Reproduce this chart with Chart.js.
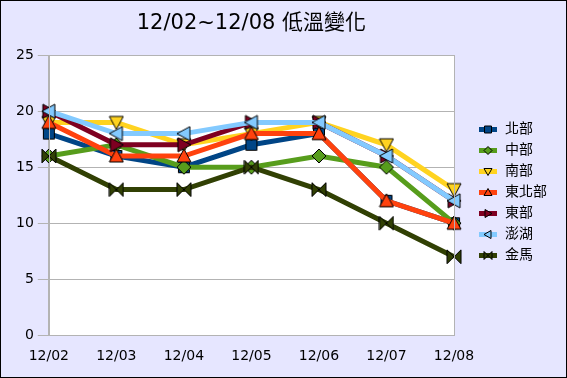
<!DOCTYPE html>
<html lang="zh-Hant">
<head>
    <meta charset="UTF-8">
    <title>12/02~12/08 低溫變化</title>
    <style>
        html, body { margin: 0; padding: 0; background: #e6e6ff; }
        #wrap { width: 567px; height: 378px; }
    </style>
</head>
<body>
    <div id="wrap"><canvas id="temp-chart" width="567" height="378"></canvas></div>

    <script src="https://cdn.jsdelivr.net/npm/chart.js"></script>
    <script>
        const days = ['12/02', '12/03', '12/04', '12/05', '12/06', '12/07', '12/08'];
        const regions = ['北部', '中部', '南部', '東北部', '東部', '澎湖', '金馬'];
        const north     = [18, 16, 15, 17, 18, 12, 10];
        const central   = [16, 17, 15, 15, 16, 15, 10];
        const south     = [19, 19, 17, 18, 19, 17, 13];
        const northeast = [19, 16, 16, 18, 18, 12, 10];
        const east      = [20, 17, 17, 19, 19, 16, 12];
        const penghu    = [20, 18, 18, 19, 19, 16, 12];
        const kinmen    = [16, 13, 13, 15, 13, 10, 7];
        const yTicks = [0, 5, 10, 15, 20, 25];

        const seriesValues = [north, central, south, northeast, east, penghu, kinmen];
        const colors = ['#004586', '#579d1c', '#ffd320', '#ff420e', '#7e0021', '#83caff', '#314004'];
        const shapes = ['square', 'diamond', 'down', 'up', 'right', 'left', 'bowtie'];

        function shapePath(ctx, shape, cx, cy, s) {
            const h = s / 2;
            ctx.beginPath();
            if (shape === 'square') {
                ctx.rect(cx - h + 0.5, cy - h + 0.5, s - 1, s - 1);
            } else if (shape === 'diamond') {
                ctx.moveTo(cx, cy - h); ctx.lineTo(cx + h, cy); ctx.lineTo(cx, cy + h); ctx.lineTo(cx - h, cy);
            } else if (shape === 'down') {
                ctx.moveTo(cx - h, cy - h + 1); ctx.lineTo(cx + h, cy - h + 1); ctx.lineTo(cx, cy + h);
            } else if (shape === 'up') {
                ctx.moveTo(cx - h, cy + h - 1); ctx.lineTo(cx + h, cy + h - 1); ctx.lineTo(cx, cy - h);
            } else if (shape === 'right') {
                ctx.moveTo(cx - h + 1, cy - h); ctx.lineTo(cx - h + 1, cy + h); ctx.lineTo(cx + h, cy);
            } else if (shape === 'left') {
                ctx.moveTo(cx + h - 1, cy - h); ctx.lineTo(cx + h - 1, cy + h); ctx.lineTo(cx - h, cy);
            } else if (shape === 'bowtie') {
                ctx.moveTo(cx - h, cy - h); ctx.lineTo(cx + h, cy + h); ctx.lineTo(cx + h, cy - h); ctx.lineTo(cx - h, cy + h);
            }
            ctx.closePath();
        }

        function makeMarker(shape, color, size) {
            const c = document.createElement('canvas');
            c.width = size + 2; c.height = size + 2;
            const ctx = c.getContext('2d');
            shapePath(ctx, shape, c.width / 2, c.height / 2, size);
            ctx.fillStyle = color;
            ctx.fill();
            ctx.strokeStyle = '#000';
            ctx.lineWidth = 1;
            ctx.stroke();
            return c;
        }

        function makeLegendMark(shape, color) {
            const c = document.createElement('canvas');
            c.width = 20; c.height = 12;
            const ctx = c.getContext('2d');
            ctx.fillStyle = color;
            ctx.fillRect(1, 4, 18, 5);
            shapePath(ctx, shape, 10, 6.5, 8);
            ctx.fill();
            ctx.strokeStyle = '#000';
            ctx.lineWidth = 1;
            ctx.stroke();
            return c;
        }

        const legendMarks = shapes.map((s, i) => makeLegendMark(s, colors[i]));

        const plotBackground = {
            id: 'plotBackground',
            beforeDraw(chart) {
                const { ctx, chartArea: a, width, height } = chart;
                ctx.save();
                ctx.fillStyle = '#e6e6ff';
                ctx.fillRect(0, 0, width, height);
                ctx.fillStyle = '#ffffff';
                ctx.fillRect(a.left, a.top, a.right - a.left, a.bottom - a.top);
                ctx.restore();
            },
            afterDraw(chart) {
                const { ctx, chartArea: a, width, height } = chart;
                ctx.save();
                ctx.strokeStyle = '#b3b3b3';
                ctx.lineWidth = 1;
                ctx.strokeRect(Math.round(a.left) + 0.5, Math.round(a.top) + 0.5, Math.round(a.right - a.left), Math.round(a.bottom - a.top));
                ctx.strokeStyle = '#000';
                ctx.strokeRect(0.5, 0.5, width - 1, height - 1);
                ctx.restore();
            }
        };

        const ctx = document.getElementById('temp-chart').getContext('2d');
        window.tempChart = new Chart(ctx, {
            type: 'line',
            data: {
                labels: days,
                datasets: regions.map((name, i) => ({
                    label: name,
                    data: seriesValues[i],
                    borderColor: colors[i],
                    backgroundColor: colors[i],
                    borderWidth: 5,
                    tension: 0,
                    pointStyle: makeMarker(shapes[i], colors[i], shapes[i] === 'square' ? 12 : 14),
                    order: regions.length - i
                }))
            },
            options: {
                responsive: false,
                animation: false,
                events: [],
                layout: { padding: { left: 12, right: 10, top: 6, bottom: 0 } },
                plugins: {
                    title: {
                        display: true,
                        fullSize: false,
                        text: '12/02~12/08 低溫變化',
                        color: '#000',
                        font: { family: '"DejaVu Sans", "Noto Sans CJK TC"', size: 21, weight: 'normal' },
                        padding: { top: 5, bottom: 19 }
                    },
                    legend: {
                        position: 'right',
                        labels: {
                            usePointStyle: true,
                            pointStyleWidth: 20,
                            color: '#000',
                            padding: 7,
                            font: { family: '"DejaVu Sans", "Noto Sans CJK TC"', size: 14 },
                            generateLabels(chart) {
                                return chart.data.datasets.map((ds, i) => ({
                                    text: ds.label,
                                    pointStyle: legendMarks[i],
                                    fillStyle: colors[i],
                                    strokeStyle: colors[i],
                                    lineWidth: 0,
                                    datasetIndex: i,
                                    fontColor: '#000'
                                }));
                            }
                        }
                    },
                    tooltip: { enabled: false }
                },
                scales: {
                    x: {
                        offset: false,
                        grid: { display: false, drawTicks: false },
                        border: { color: '#b3b3b3' },
                        ticks: {
                            color: '#000',
                            padding: 13,
                            maxRotation: 0,
                            font: { family: '"DejaVu Sans"', size: 14 }
                        }
                    },
                    y: {
                        min: 0,
                        max: 25,
                        afterBuildTicks(axis) {
                            axis.ticks = yTicks.map(v => ({ value: v }));
                        },
                        grid: { color: '#b3b3b3', tickLength: 11 },
                        border: { color: '#b3b3b3' },
                        ticks: {
                            color: '#000',
                            padding: 4,
                            font: { family: '"DejaVu Sans"', size: 14 }
                        }
                    },
                    gap: {
                        type: 'linear',
                        position: 'right',
                        display: true,
                        grid: { display: false, drawTicks: false },
                        border: { display: false },
                        ticks: { display: false },
                        afterFit(scale) { scale.width = 17; }
                    }
                }
            },
            plugins: [plotBackground]
        });
    </script>
</body>
</html>
